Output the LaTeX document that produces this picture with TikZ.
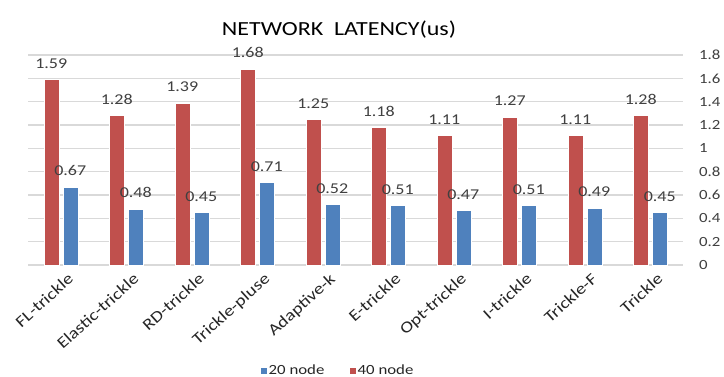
\documentclass[tikz,border=0pt]{standalone}
\usepackage{fontspec}
\setmainfont{Carlito}[FakeStretch=1.2]
\definecolor{barred}{HTML}{C0504D}
\definecolor{barblue}{HTML}{4F81BD}
\definecolor{gridc}{HTML}{D9D9D9}
\definecolor{txt}{HTML}{404040}
\tikzset{
  gridline/.style={draw=gridc, line width=1.2pt},
  axlab/.style={anchor=west, inner sep=0pt, text=txt, font=\fontsize{14}{14}\selectfont},
  dlab/.style={anchor=base, inner sep=0pt, text=txt, font=\fontsize{15}{15}\selectfont},
  catlab/.style={anchor=north east, inner sep=0pt, rotate=42, text=black!85, font=\fontsize{16}{16}\selectfont},
  redbar/.style={fill=barred, draw=white, line width=0.4pt},
  bluebar/.style={fill=barblue, draw=white, line width=0.4pt},
  legtxt/.style={anchor=base west, inner sep=0pt, text=black!85, font=\fontsize{14}{14}\selectfont},
}
\begin{document}
\begin{tikzpicture}[x=1pt,y=-1pt]
\useasboundingbox (0,0) rectangle (724,377);
\fill[white] (0,0) rectangle (724,377);
% title
\node[inner sep=0pt, font=\fontsize{20}{20}\selectfont] (title) at (339,30) {NETWORK\ \ LATENCY(us)};
% grid and axis labels
\foreach \k/\lab in {0/0,1/0.2,2/0.4,3/0.6,4/0.8,5/1,6/1.2,7/1.4,8/1.6,9/1.8}{
  \pgfmathsetmacro{\yy}{265-\k*23.333}
  \draw[gridline] (28,\yy) -- (683,\yy);
  \node[axlab] (ax\k) at (699,\yy) {\lab};
}
% bars
\foreach \i/\name/\r/\b in {1/FL-trickle/1.59/0.67, 2/Elastic-trickle/1.28/0.48, 3/RD-trickle/1.39/0.45, 4/Trickle-pluse/1.68/0.71, 5/Adaptive-k/1.25/0.52, 6/E-trickle/1.18/0.51, 7/Opt-trickle/1.11/0.47, 8/I-trickle/1.27/0.51, 9/Trickle-F/1.11/0.49, 10/Trickle/1.28/0.45}{
  \pgfmathsetmacro{\c}{28+(\i-0.5)*65.5}
  \pgfmathsetmacro{\yr}{265-\r*116.67}
  \pgfmathsetmacro{\yb}{265-\b*116.67}
  \draw[redbar] ({\c-17},265) rectangle ({\c-2},\yr);
  \draw[bluebar] ({\c+2},265) rectangle ({\c+17},\yb);
  \node[dlab] (r\i) at ({\c-9.5},{\yr-11}) {\r};
  \node[dlab] (b\i) at ({\c+9.5},{\yb-11}) {\b};
  \node[catlab] (cat\i) at ({\c+6},272) {\name};
}
% legend
\fill[barblue] (261,367.5) rectangle (267,374);
\node[legtxt] (l20) at (268.5,374.5) {20 node};
\fill[barred] (350,367.5) rectangle (356,374);
\node[legtxt] (l40) at (357.5,374.5) {40 node};
\end{tikzpicture}
\end{document}
